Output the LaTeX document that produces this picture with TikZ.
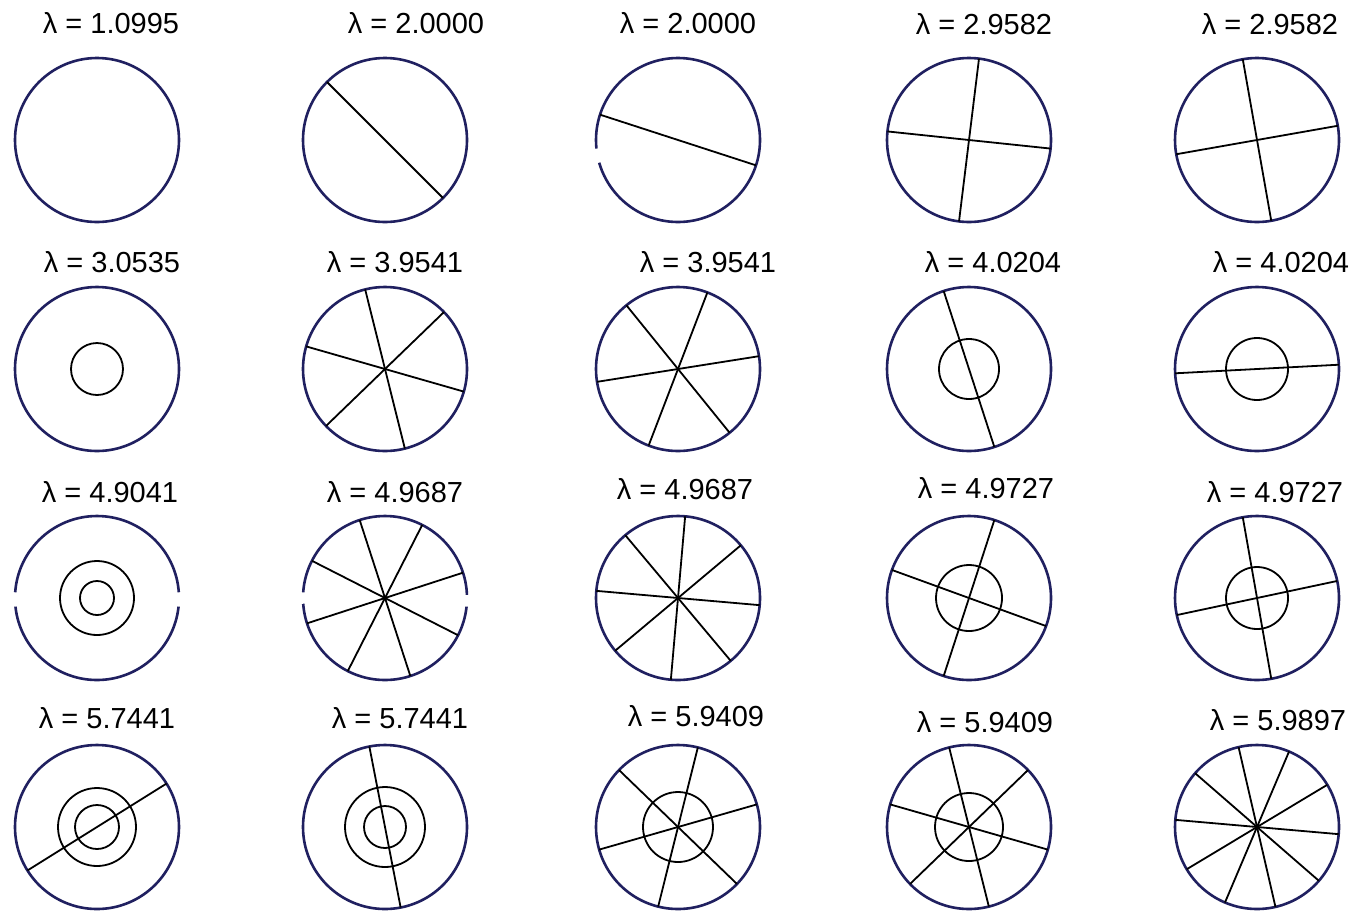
\documentclass[tikz,border=0pt]{standalone}
\usepackage{fontspec}
\setmainfont{Liberation Sans}
\usepackage{tikz}
\usetikzlibrary{positioning}
\definecolor{contorno}{RGB}{32,32,96}
\definecolor{fondo}{RGB}{255,255,255}

\begin{document}
\begin{tikzpicture}[x=0.5pt,y=0.5pt,
    disco/.style={circle, draw=contorno, line width=1.3pt, minimum size=82pt,
                  inner sep=0pt, outer sep=0pt},
    anillo/.style={circle, draw=black, line width=0.9pt, inner sep=0pt, outer sep=0pt},
    nodal/.style={line width=0.9pt, color=black},
    hueco/.style={line width=2.4pt, color=fondo},
    etiqueta/.style={font=\fontsize{14.5}{16}\selectfont, inner sep=1pt}]
  \useasboundingbox[fill=fondo] (0,0) rectangle (1369,-911);

  % fila 1
  \node[disco] (d11) at (97,-140) {};
  \node[disco] (d12) at (385,-140) {};
  \node[disco] (d13) at (678,-140) {};
  \node[disco] (d14) at (969,-140) {};
  \node[disco] (d15) at (1257,-140) {};
  \node[etiqueta] (l11) at (111,-23) {λ = 1.0995};
  \node[etiqueta] (l12) at (416,-23) {λ = 2.0000};
  \node[etiqueta] (l13) at (688,-23) {λ = 2.0000};
  \node[etiqueta] (l14) at (984,-24) {λ = 2.9582};
  \node[etiqueta] (l15) at (1270,-24) {λ = 2.9582};
  \draw[nodal] (d12.135) -- (d12.315);
  \draw[hueco] (d13.186) arc[start angle=186, end angle=196, radius=41pt];
  \draw[nodal] (d13.162) -- (d13.342);
  \draw[nodal] (d14.83) -- (d14.263);
  \draw[nodal] (d14.174) -- (d14.354);
  \draw[nodal] (d15.100) -- (d15.280);
  \draw[nodal] (d15.10) -- (d15.190);

  % fila 2
  \node[disco] (d21) at (97,-369) {};
  \node[disco] (d22) at (385,-369) {};
  \node[disco] (d23) at (678,-369) {};
  \node[disco] (d24) at (969,-369) {};
  \node[disco] (d25) at (1257,-369) {};
  \node[etiqueta] (l21) at (112,-262) {λ = 3.0535};
  \node[etiqueta] (l22) at (395,-262) {λ = 3.9541};
  \node[etiqueta] (l23) at (708,-262) {λ = 3.9541};
  \node[etiqueta] (l24) at (993,-262) {λ = 4.0204};
  \node[etiqueta] (l25) at (1281,-262) {λ = 4.0204};
  \node[anillo, minimum size=26pt] (a21) at (d21) {};
  \foreach \ang in {44,104,164}
    \draw[nodal] (d22.\ang) -- (d22.\ang+180);
  \foreach \ang in {9,69,129}
    \draw[nodal] (d23.\ang) -- (d23.\ang+180);
  \node[anillo, minimum size=30pt] (a24) at (d24) {};
  \draw[nodal] (d24.108) -- (d24.288);
  \node[anillo, minimum size=31pt] (a25) at (d25) {};
  \draw[nodal] (d25.3) -- (d25.183);

  % fila 3
  \node[disco] (d31) at (97,-598) {};
  \node[disco] (d32) at (385,-598) {};
  \node[disco] (d33) at (678,-598) {};
  \node[disco] (d34) at (969,-598) {};
  \node[disco] (d35) at (1257,-598) {};
  \node[etiqueta] (l31) at (110,-492) {λ = 4.9041};
  \node[etiqueta] (l32) at (395,-492) {λ = 4.9687};
  \node[etiqueta] (l33) at (685,-489) {λ = 4.9687};
  \node[etiqueta] (l34) at (986,-488) {λ = 4.9727};
  \node[etiqueta] (l35) at (1275,-492) {λ = 4.9727};
  \draw[hueco] (d31.176) arc[start angle=176, end angle=186, radius=41pt];
  \draw[hueco] (d31.-6) arc[start angle=-6, end angle=4, radius=41pt];
  \node[anillo, minimum size=37pt] (a31) at (d31) {};
  \node[anillo, minimum size=17pt] (b31) at (d31) {};
  \draw[hueco] (d32.176) arc[start angle=176, end angle=184, radius=41pt];
  \draw[hueco] (d32.-6) arc[start angle=-6, end angle=2, radius=41pt];
  \foreach \ang in {18,63,108,153}
    \draw[nodal] (d32.\ang) -- (d32.\ang+180);
  \foreach \ang in {40,85,130,175}
    \draw[nodal] (d33.\ang) -- (d33.\ang+180);
  \node[anillo, minimum size=33pt] (a34) at (d34) {};
  \draw[nodal] (d34.72) -- (d34.252);
  \draw[nodal] (d34.160) -- (d34.340);
  \node[anillo, minimum size=31pt] (a35) at (d35) {};
  \draw[nodal] (d35.100) -- (d35.280);
  \draw[nodal] (d35.12) -- (d35.192);

  % fila 4
  \node[disco] (d41) at (97,-827) {};
  \node[disco] (d42) at (385,-827) {};
  \node[disco] (d43) at (678,-827) {};
  \node[disco] (d44) at (969,-827) {};
  \node[disco] (d45) at (1257,-827) {};
  \node[etiqueta] (l41) at (107,-718) {λ = 5.7441};
  \node[etiqueta] (l42) at (400,-718) {λ = 5.7441};
  \node[etiqueta] (l43) at (696,-716) {λ = 5.9409};
  \node[etiqueta] (l44) at (985,-722) {λ = 5.9409};
  \node[etiqueta] (l45) at (1278,-720) {λ = 5.9897};
  \node[anillo, minimum size=39pt] (a41) at (d41) {};
  \node[anillo, minimum size=22pt] (b41) at (d41) {};
  \draw[nodal] (d41.32) -- (d41.212);
  \node[anillo, minimum size=40pt] (a42) at (d42) {};
  \node[anillo, minimum size=21pt] (b42) at (d42) {};
  \draw[nodal] (d42.101) -- (d42.281);
  \node[anillo, minimum size=35pt] (a43) at (d43) {};
  \foreach \ang in {16,76,136}
    \draw[nodal] (d43.\ang) -- (d43.\ang+180);
  \node[anillo, minimum size=34pt] (a44) at (d44) {};
  \foreach \ang in {44,104,164}
    \draw[nodal] (d44.\ang) -- (d44.\ang+180);
  \foreach \ang in {31,67,103,139,175}
    \draw[nodal] (d45.\ang) -- (d45.\ang+180);
\end{tikzpicture}
\end{document}
